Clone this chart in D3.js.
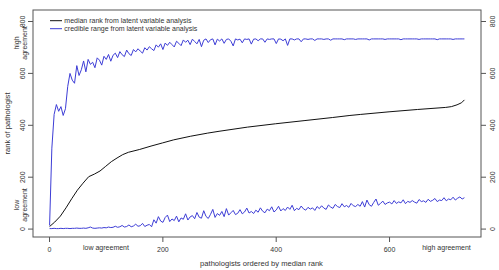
<!DOCTYPE html>
<html>
<head>
<meta charset="utf-8">
<script src="https://cdn.jsdelivr.net/npm/d3@7"></script>
<style>
  body { margin: 0; background: #fff; }
  svg { display: block; font-family: "Liberation Sans", Arial, sans-serif; }
  .line { fill: none; }
</style>
</head>
<body>
<div id="chart"></div>
<script>
// rank position of every 4th pathologist (1..733)
var rankIdx = d3.range(1, 734, 4);

// upper end of the credible range, one value per rankIdx
var upper = [12,310,440,478,452,470,436,462,
  548,598,572,560,628,590,612,646,604,652,633,641,
  620,658,649,630,664,652,671,645,668,676,659,682,670,663,688,674,667,690,681,693,
  684,676,697,688,701,693,686,708,699,712,690,715,706,718,709,700,722,714,705,727,
  718,726,709,730,721,712,729,701,726,731,717,728,731,708,730,723,731,714,729,731,
  722,704,731,727,730,716,731,729,731,711,730,731,724,731,731,718,731,729,731,731,
  713,731,730,724,731,706,731,731,727,731,731,720,731,731,729,731,731,725,731,731,
  731,729,731,731,726,731,731,731,731,731,728,731,731,731,731,729,731,731,731,731,
  731,727,731,731,731,731,731,731,729,731,731,731,731,731,731,728,731,731,731,731,
  731,731,731,729,731,731,731,731,731,731,731,728,731,731,731,731,731,731,729,731,
  731,731,731,731];

// lower end of the credible range, one value per rankIdx
var lower = [0,0,1,0,0,1,0,1,1,0,1,1,2,1,1,2,1,3,6,2,1,2,3,2,4,
  3,6,4,5,9,5,7,12,6,8,14,7,10,17,9,11,20,8,13,16,7,
  34,21,46,29,24,43,52,27,37,31,48,26,41,36,
  57,33,45,50,38,62,44,40,69,47,39,55,74,43,58,51,66,46,77,52,
  61,70,54,59,73,57,64,79,60,66,58,71,63,80,67,61,75,69,84,64,
  72,86,68,77,70,83,74,90,69,78,73,87,76,71,82,75,80,70,85,77,
  88,79,74,91,83,78,93,85,81,96,84,89,82,97,88,85,93,86,104,83,
  110,92,86,101,114,90,97,106,93,99,102,95,108,97,103,99,111,96,105,101,
  108,102,98,112,104,107,101,113,105,109,116,104,110,108,119,107,114,111,121,110,
  117,122,114,119];

// median rank (smooth curve)
var medianIdx = [1,10,20,30,40,50,60,70,80,90,100,110,120,130,140,160,180,200,220,250,
  280,300,350,400,450,500,531,550,600,650,700,710,720,728,733];
var median = [8,25,48,80,115,148,175,200,210,222,240,258,272,285,294,305,318,330,342,356,
  368,375,391,404,416,428,436,440,450,459,467,470,477,485,496];

var xTicks = [0, 200, 400, 600];
var yTicks = [0, 200, 400, 600, 800];

var W = 499, H = 270;
var box = { left: 33, right: 481, top: 10, bottom: 237 };
var fs = 7, fsLab = 7.6;

var svg = d3.select("#chart").append("svg")
    .attr("width", W)
    .attr("height", H);

// R style 4% padding around the data range
var x = d3.scaleLinear().domain([1 - 29.28, 733 + 29.28]).range([box.left, box.right]);
var y = d3.scaleLinear().domain([-32.4, 842.4]).range([box.bottom, box.top]);

var blue = "#3d3dd6";

var line = d3.line()
    .x(function(d) { return x(d[0]); })
    .y(function(d) { return y(d[1]); });

svg.append("path")
    .attr("class", "line")
    .attr("d", line(rankIdx.map(function(r, i) { return [r, upper[i]]; })))
    .attr("stroke", blue)
    .attr("stroke-width", 1);

svg.append("path")
    .attr("class", "line")
    .attr("d", line(rankIdx.map(function(r, i) { return [r, lower[i]]; })))
    .attr("stroke", blue)
    .attr("stroke-width", 1);

svg.append("path")
    .attr("class", "line")
    .attr("d", line(medianIdx.map(function(r, i) { return [r, median[i]]; })))
    .attr("stroke", "#111")
    .attr("stroke-width", 1);

// frame
svg.append("rect")
    .attr("x", box.left).attr("y", box.top)
    .attr("width", box.right - box.left).attr("height", box.bottom - box.top)
    .attr("fill", "none").attr("stroke", "#555").attr("stroke-width", 1);

function styleAxis(g) {
  g.select(".domain").remove();
  g.selectAll("line").attr("stroke", "#555");
  g.selectAll("text").attr("fill", "#333").attr("font-size", fs)
    .attr("font-family", "Liberation Sans, Arial, sans-serif");
}

svg.append("g")
    .attr("transform", "translate(0," + box.bottom + ")")
    .call(d3.axisBottom(x).tickValues(xTicks).tickSize(5).tickPadding(5.5))
    .call(styleAxis);

var yl = svg.append("g")
    .attr("transform", "translate(" + box.left + ",0)")
    .call(d3.axisLeft(y).tickValues(yTicks).tickSize(5))
    .call(styleAxis);
yl.selectAll(".tick text")
    .attr("x", 0)
    .attr("text-anchor", "middle")
    .attr("transform", "translate(-10.5,0) rotate(-90)")
    .attr("dy", "0.35em");

var yr = svg.append("g")
    .attr("transform", "translate(" + box.right + ",0)")
    .call(d3.axisRight(y).tickValues(yTicks).tickSize(5))
    .call(styleAxis);
yr.selectAll(".tick text")
    .attr("x", 0)
    .attr("text-anchor", "middle")
    .attr("transform", "translate(12,0) rotate(-90)")
    .attr("dy", "0.35em");

function rotText(cx, cy, txt, size) {
  svg.append("text")
    .attr("transform", "translate(" + cx + "," + cy + ") rotate(-90)")
    .attr("text-anchor", "middle").attr("dy", "0.35em")
    .attr("font-size", size || fs).attr("fill", "#333")
    .text(txt);
}
rotText(7.5, 123.5, "rank of pathologist", fsLab);
rotText(17, 43, "high");
rotText(25, 43, "agreement");
rotText(17, 205, "low");
rotText(25, 205, "agreement");

function plainText(px, py, txt, anchor, size) {
  svg.append("text")
    .attr("x", px).attr("y", py)
    .attr("text-anchor", anchor || "start")
    .attr("font-size", size || fs).attr("fill", "#333")
    .text(txt);
}
plainText(261.5, 266, "pathologists ordered by median rank", "middle", fsLab);
plainText(106, 249.5, "low agreement", "middle");
plainText(446.5, 249.5, "high agreement", "middle");

// legend
var legend = [
  { label: "median rank from latent variable analysis", color: "#111" },
  { label: "credible range from latent variable analysis", color: blue }
];
legend.forEach(function(d, i) {
  var ly = 20.7 + i * 8;
  svg.append("line")
    .attr("x1", 50).attr("x2", 62).attr("y1", ly).attr("y2", ly)
    .attr("stroke", d.color).attr("stroke-width", 1);
  plainText(64.3, ly + 2.5, d.label);
});
</script>
</body>
</html>
